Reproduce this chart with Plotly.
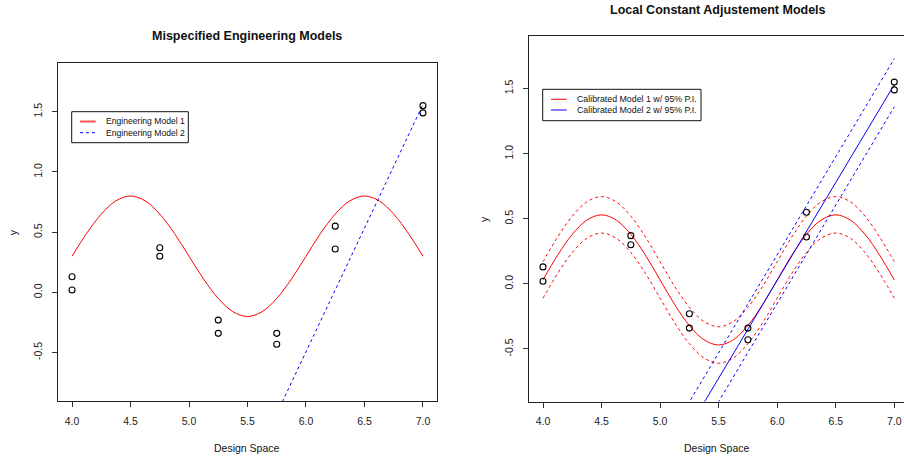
import plotly.graph_objects as go

# ---------------- data ----------------
obs_x = [4.0, 4.0, 4.75, 4.75, 5.25, 5.25, 5.75, 5.75, 6.25, 6.25, 7.0, 7.0]
obs_y = [0.13, 0.02, 0.37, 0.30, -0.23, -0.34, -0.34, -0.43, 0.55, 0.36, 1.55, 1.49]

curve_x = [4.0, 4.125, 4.25, 4.375, 4.5, 4.625, 4.75, 4.875, 5.0, 5.125, 5.25, 5.375,
           5.5, 5.625, 5.75, 5.875, 6.0, 6.125, 6.25, 6.375, 6.5, 6.625, 6.75, 6.875, 7.0]
eng1_y = [0.30, 0.49, 0.65, 0.76, 0.80, 0.76, 0.65, 0.49, 0.30, 0.11, -0.05, -0.16,
          -0.20, -0.16, -0.05, 0.11, 0.30, 0.49, 0.65, 0.76, 0.80, 0.76, 0.65, 0.49, 0.30]

eng2_x = [4.0, 7.0]
eng2_y = [-4.60, 1.56]

cal1_y = [0.03, 0.22, 0.38, 0.49, 0.53, 0.49, 0.38, 0.22, 0.03, -0.16, -0.32, -0.43,
          -0.47, -0.43, -0.32, -0.16, 0.03, 0.22, 0.38, 0.49, 0.53, 0.49, 0.38, 0.22, 0.03]
cal1_up = [0.17, 0.36, 0.52, 0.63, 0.67, 0.63, 0.52, 0.36, 0.17, -0.02, -0.18, -0.29,
           -0.33, -0.29, -0.18, -0.02, 0.17, 0.36, 0.52, 0.63, 0.67, 0.63, 0.52, 0.36, 0.17]
cal1_lo = [-0.11, 0.08, 0.24, 0.35, 0.39, 0.35, 0.24, 0.08, -0.11, -0.30, -0.46, -0.57,
           -0.61, -0.57, -0.46, -0.30, -0.11, 0.08, 0.24, 0.35, 0.39, 0.35, 0.24, 0.08, -0.11]

cal2_x = [4.0, 7.0]
cal2_y = [-2.98, 1.53]
cal2_up = [-2.79, 1.73]
cal2_lo = [-3.17, 1.36]

x_ticks = [4.0, 4.5, 5.0, 5.5, 6.0, 6.5, 7.0]
x_tick_text = ["4.0", "4.5", "5.0", "5.5", "6.0", "6.5", "7.0"]
y_ticks = [-0.5, 0.0, 0.5, 1.0, 1.5]
y_tick_text = ["-0.5", "0.0", "0.5", "1.0", "1.5"]

left_title = "Mispecified Engineering Models"
right_title = "Local Constant Adjustement Models"
x_label = "Design Space"
y_label = "y"
left_legend = ["Engineering Model 1", "Engineering Model 2"]
right_legend = ["Calibrated Model 1 w/ 95% P.I.", "Calibrated Model 2 w/ 95% P.I."]

# ---------------- layout helpers ----------------
W, H = 904, 457
FONT = "Liberation Sans, Arial, Helvetica, sans-serif"
RED = "#FF0000"
BLUE = "#0000FF"
DASH = "3px,3px"


def px(x):
    return x / W


def py(y):
    return 1 - y / H


fig = go.Figure()

# left panel
fig.add_trace(go.Scatter(x=curve_x, y=eng1_y, mode="lines", line=dict(color=RED, width=1, shape="spline"),
                         xaxis="x", yaxis="y", showlegend=False))
fig.add_trace(go.Scatter(x=eng2_x, y=eng2_y, mode="lines", line=dict(color=BLUE, width=1, dash=DASH),
                         xaxis="x", yaxis="y", showlegend=False))
fig.add_trace(go.Scatter(x=obs_x, y=obs_y, mode="markers",
                         marker=dict(symbol="circle-open", size=6, color="black", line=dict(width=1.1)),
                         xaxis="x", yaxis="y", showlegend=False))

# right panel
fig.add_trace(go.Scatter(x=curve_x, y=cal1_y, mode="lines", line=dict(color=RED, width=1, shape="spline"),
                         xaxis="x2", yaxis="y2", showlegend=False))
fig.add_trace(go.Scatter(x=curve_x, y=cal1_up, mode="lines", line=dict(color=RED, width=1, dash=DASH, shape="spline"),
                         xaxis="x2", yaxis="y2", showlegend=False))
fig.add_trace(go.Scatter(x=curve_x, y=cal1_lo, mode="lines", line=dict(color=RED, width=1, dash=DASH, shape="spline"),
                         xaxis="x2", yaxis="y2", showlegend=False))
fig.add_trace(go.Scatter(x=cal2_x, y=cal2_y, mode="lines", line=dict(color=BLUE, width=1),
                         xaxis="x2", yaxis="y2", showlegend=False))
fig.add_trace(go.Scatter(x=cal2_x, y=cal2_up, mode="lines", line=dict(color=BLUE, width=1, dash=DASH),
                         xaxis="x2", yaxis="y2", showlegend=False))
fig.add_trace(go.Scatter(x=cal2_x, y=cal2_lo, mode="lines", line=dict(color=BLUE, width=1, dash=DASH),
                         xaxis="x2", yaxis="y2", showlegend=False))
fig.add_trace(go.Scatter(x=obs_x, y=obs_y, mode="markers",
                         marker=dict(symbol="circle-open", size=6, color="black", line=dict(width=1.1)),
                         xaxis="x2", yaxis="y2", showlegend=False))

axis_common = dict(showgrid=False, zeroline=False, showline=True, linecolor="#222222", linewidth=1,
                   ticks="outside", ticklen=5, tickwidth=1, tickcolor="#333333",
                   tickfont=dict(family=FONT, size=10.5, color="#222222"))

fig.update_layout(
    width=W, height=H,
    margin=dict(l=0, r=0, t=0, b=0),
    paper_bgcolor="white", plot_bgcolor="white",
    showlegend=False,
    xaxis=dict(domain=[px(58), px(437)], range=[3.88, 7.12], tickvals=x_ticks, ticktext=x_tick_text,
               mirror=True, anchor="y", ticklabelstandoff=5, **axis_common),
    yaxis=dict(domain=[py(401.3), py(63)], range=[-0.904, 1.904], tickvals=y_ticks, ticktext=y_tick_text,
               mirror=True, anchor="x", tickangle=-90, ticklabelstandoff=6, **axis_common),
    xaxis2=dict(domain=[px(529.3), 1.0], range=[3.883, 7.083], tickvals=x_ticks, ticktext=x_tick_text,
                mirror=True, anchor="y2", ticklabelstandoff=5, **axis_common),
    yaxis2=dict(domain=[py(401.5), py(36)], range=[-0.904, 1.904], tickvals=y_ticks, ticktext=y_tick_text,
                mirror=False, anchor="x2", tickangle=-90, ticklabelstandoff=6, **axis_common),
)

annotations = []


def txt(x, y, s, size=10.5, bold=False, angle=0, xanchor="center"):
    annotations.append(dict(x=px(x), y=py(y), xref="paper", yref="paper", text=("<b>%s</b>" % s) if bold else s,
                            showarrow=False, xanchor=xanchor, yanchor="middle", textangle=angle,
                            font=dict(family=FONT, size=size, color="#111111")))


txt(247, 35.7, left_title, size=12.5, bold=True)
txt(718, 10, right_title, size=12.5, bold=True)
txt(247, 448, x_label)
txt(717, 448, x_label)
txt(13.3, 232, y_label, angle=-90)
txt(484, 219, y_label, angle=-90)

shapes = []


def rect(x0, y0, x1, y1):
    shapes.append(dict(type="rect", xref="paper", yref="paper", x0=px(x0), x1=px(x1), y0=py(y1), y1=py(y0),
                       line=dict(color="#111111", width=1), fillcolor="white", layer="above"))


def seg(x0, x1, y, color, width=1, dash="solid"):
    shapes.append(dict(type="line", xref="paper", yref="paper", x0=px(x0), x1=px(x1), y0=py(y), y1=py(y),
                       line=dict(color=color, width=width, dash=dash), layer="above"))


# left legend
rect(71.7, 111.7, 188.3, 142.7)
seg(80, 95.7, 121.5, "#FF5555", width=2)
seg(80, 95.7, 132.7, BLUE, width=1, dash=DASH)
txt(103.5, 121.5, left_legend[0], size=8.6, xanchor="left")
txt(103.5, 132.7, left_legend[1], size=8.6, xanchor="left")

# right legend
rect(542.7, 89.3, 701, 120.7)
seg(551, 566.7, 99.3, RED)
seg(551, 566.7, 110, BLUE)
txt(574.5, 99.3, right_legend[0], size=8.8, xanchor="left")
txt(574.5, 110, right_legend[1], size=8.8, xanchor="left")

fig.update_layout(annotations=annotations, shapes=shapes)

fig.write_html("out.html")
